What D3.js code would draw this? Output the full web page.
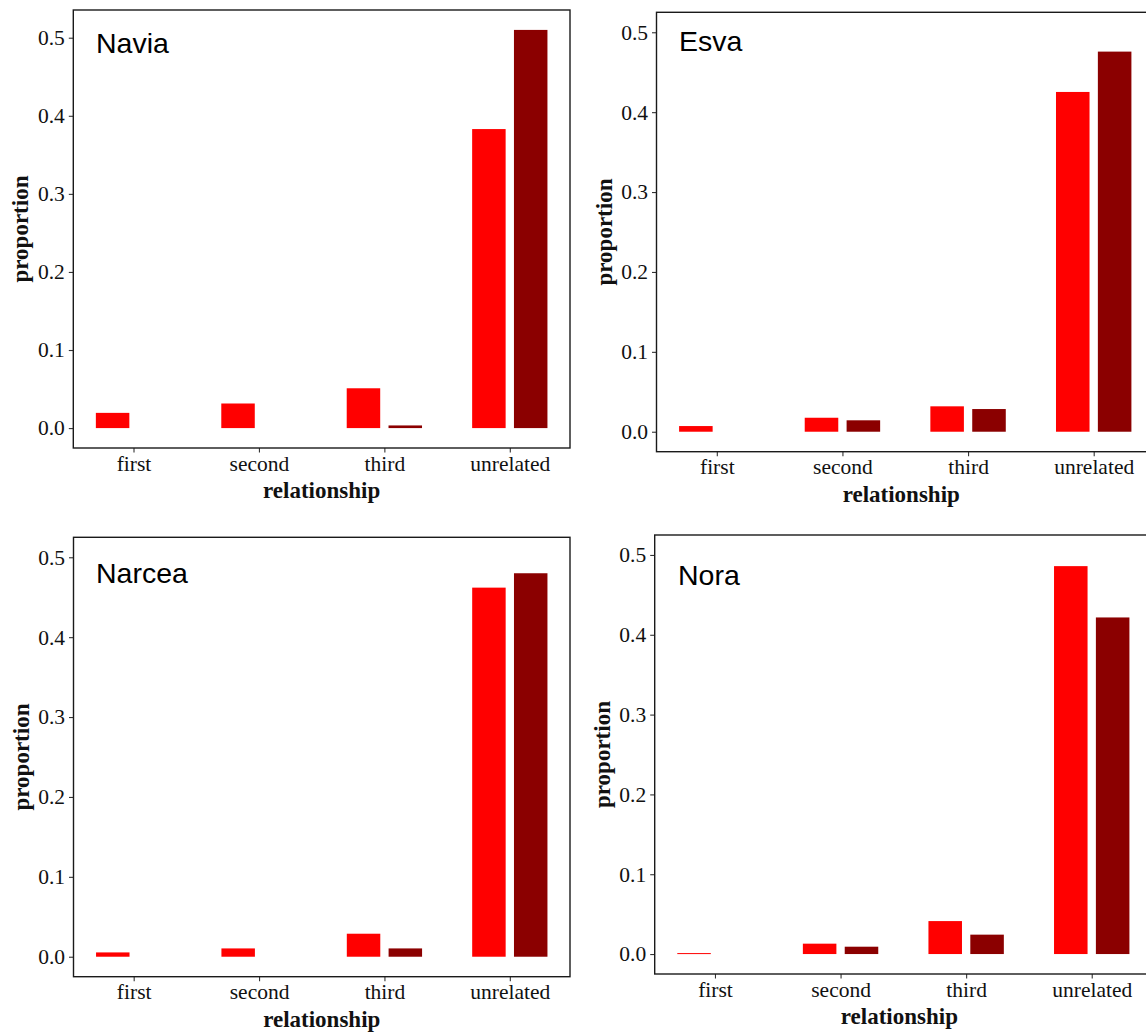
<!DOCTYPE html>
<html>
<head>
<meta charset="utf-8">
<script src="https://cdn.jsdelivr.net/npm/d3@7"></script>
<style>
  html, body { margin: 0; padding: 0; background: #fff; }
  svg { display: block; }
</style>
</head>
<body>
<svg id="chart" width="1146" height="1032"></svg>
<script>
// Relationship categories shared by every river panel
const categories = ["first", "second", "third", "unrelated"];
const rivers = ["Navia", "Esva", "Narcea", "Nora"];
const yTicks = [0, 0.1, 0.2, 0.3, 0.4, 0.5];

// Proportion of pairs in each relationship class (bright red / dark red series)
const naviaRed   = [0.0195, 0.0315, 0.051, 0.383];
const naviaDark  = [0, 0, 0.0034, 0.510];
const esvaRed    = [0.0071, 0.0175, 0.0318, 0.4253];
const esvaDark   = [0, 0.0143, 0.0284, 0.4758];
const narceaRed  = [0.0054, 0.0104, 0.0288, 0.462];
const narceaDark = [0, 0, 0.0104, 0.480];
const noraRed    = [0.0012, 0.013, 0.0413, 0.486];
const noraDark   = [0, 0.0092, 0.0243, 0.4217];

const seriesColors = ["#ff0000", "#8b0000"];

const panelData = [
  [naviaRed, naviaDark],
  [esvaRed, esvaDark],
  [narceaRed, narceaDark],
  [noraRed, noraDark]
];

// Panel frames (plot area) and title anchors, in page pixels
const layout = [
  { x0: 73.3,  x1: 570,  y0: 10,    y1: 448,   tx: 96,  ty: 53 },
  { x0: 656.5, x1: 1154, y0: 12.3,  y1: 451.7, tx: 679, ty: 51 },
  { x0: 73.5,  x1: 570,  y0: 537.3, y1: 976.7, tx: 96,  ty: 583 },
  { x0: 654.7, x1: 1152, y0: 535,   y1: 974,   tx: 678, ty: 585 }
];

const svg = d3.select("#chart");
const serif = "'Liberation Serif', 'Times New Roman', serif";
const sans = "'Liberation Sans', Arial, sans-serif";

rivers.forEach((name, i) => {
  const L = layout[i];
  const series = panelData[i];
  const top = d3.max([...series[0], ...series[1], 0.5]);

  const x = d3.scalePoint().domain(categories).range([L.x0, L.x1]).padding(0.48);
  const y = d3.scaleLinear().domain([-0.05 * top, 1.05 * top]).range([L.y1, L.y0]);
  const step = x.step();
  const barW = step * 0.267;
  const offs = [-step / 6, step / 6];

  const g = svg.append("g");

  // clip bars to the panel
  const clipId = "clip" + i;
  g.append("clipPath").attr("id", clipId)
    .append("rect").attr("x", L.x0).attr("y", L.y0)
    .attr("width", L.x1 - L.x0).attr("height", L.y1 - L.y0);

  const bars = g.append("g").attr("clip-path", `url(#${clipId})`);
  series.forEach((vals, s) => {
    bars.selectAll(null)
      .data(categories.map((c, k) => ({ c, v: vals[k] })).filter(d => d.v > 0))
      .enter().append("rect")
      .attr("x", d => x(d.c) + offs[s] - barW / 2)
      .attr("width", barW)
      .attr("y", d => y(d.v))
      .attr("height", d => Math.max(1, y(0) - y(d.v)))
      .attr("fill", seriesColors[s]);
  });

  // y axis
  const yAxis = g.append("g")
    .attr("transform", `translate(${L.x0},0)`)
    .call(d3.axisLeft(y).tickValues(yTicks).tickFormat(d3.format(".1f")).tickSize(4.5).tickPadding(4));
  yAxis.select(".domain").remove();
  yAxis.selectAll("line").attr("stroke", "#333").attr("stroke-width", 1.1);
  yAxis.selectAll("text").attr("font-family", serif).attr("font-size", 21.5).attr("fill", "#111");

  // x axis
  const xAxis = g.append("g")
    .attr("transform", `translate(0,${L.y1})`)
    .call(d3.axisBottom(x).tickSize(4.5).tickPadding(3));
  xAxis.select(".domain").remove();
  xAxis.selectAll("line").attr("stroke", "#333").attr("stroke-width", 1.1);
  xAxis.selectAll("text").attr("font-family", serif).attr("font-size", 21.5).attr("fill", "#111");

  // panel border
  g.append("rect")
    .attr("x", L.x0).attr("y", L.y0)
    .attr("width", L.x1 - L.x0).attr("height", L.y1 - L.y0)
    .attr("fill", "none").attr("stroke", "#1a1a1a").attr("stroke-width", 1.4);

  // axis titles
  g.append("text")
    .attr("x", (L.x0 + L.x1) / 2 - (i % 2 === 1 ? 4 : 0))
    .attr("y", L.y1 + 50)
    .attr("text-anchor", "middle")
    .attr("font-family", serif).attr("font-weight", "bold").attr("font-size", 23)
    .attr("fill", "#111")
    .text("relationship");

  g.append("text")
    .attr("transform", `translate(${L.x0 - 45},${(L.y0 + L.y1) / 2}) rotate(-90)`)
    .attr("text-anchor", "middle")
    .attr("font-family", serif).attr("font-weight", "bold").attr("font-size", 23)
    .attr("fill", "#111")
    .text("proportion");

  // river name
  g.append("text")
    .attr("x", L.tx).attr("y", L.ty)
    .attr("font-family", sans).attr("font-size", 28.5)
    .attr("fill", "#000")
    .text(name);
});
</script>
</body>
</html>
